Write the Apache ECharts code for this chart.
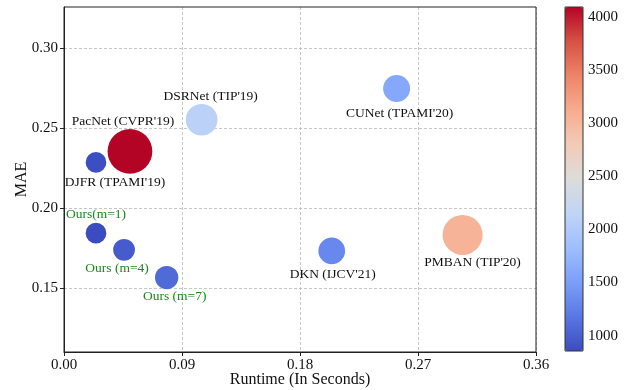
<!DOCTYPE html>
<html>
<head>
<meta charset="utf-8">
<script src="https://cdn.jsdelivr.net/npm/echarts@6/dist/echarts.min.js"></script>
<style>
  html, body { margin: 0; padding: 0; background: #fff; }
  #chart { width: 629px; height: 390px; }
</style>
</head>
<body>
<div id="chart"></div>
<script>
// Runtime vs. MAE, bubble colour = colour value, bubble area = bubble value
const methods = ["DJFR (TPAMI'19)", "PacNet (CVPR'19)", "DSRNet (TIP'19)", "CUNet (TPAMI'20)",
                 "PMBAN (TIP'20)", "DKN (IJCV'21)", "Ours(m=1)", "Ours (m=4)", "Ours (m=7)"];
const runtime = [0.0244, 0.0503, 0.1050, 0.2537, 0.3040, 0.2042, 0.0244, 0.0458, 0.0783];
const mae = [0.2287, 0.2356, 0.2554, 0.2750, 0.1833, 0.1733, 0.1844, 0.1740, 0.1566];
const colorValue = [870, 4091, 2100, 1600, 3050, 1320, 856, 980, 1080];
const bubble = [107, 500, 251, 182, 400, 178, 107, 118, 136];
const isOurs = [false, false, false, false, false, false, true, true, true];

const xTicks = [0, 0.09, 0.18, 0.27, 0.36];
const yTicks = [0.15, 0.20, 0.25, 0.30];
const barTicks = [1000, 1500, 2000, 2500, 3000, 3500, 4000];

// label placement relative to each bubble centre (px)
const labelOffsets = [[19, 20], [-7, -30], [9, -23], [3, 25], [10, 28], [1, 24], [0, -19], [-7, 19], [8, 19]];

const coolwarm = ['#3b4cc0', '#5977e3', '#7b9ff9', '#9ebeff', '#c0d4f5', '#dddcdc',
                  '#f2cbb7', '#f7ac8e', '#ee8468', '#d65244', '#b40426'];

const serif = '"Liberation Serif", "DejaVu Serif", serif';
const cMin = Math.min(...colorValue);
const cMax = Math.max(...colorValue);

const points = methods.map((m, i) => ({
  name: m,
  value: [runtime[i], mae[i], colorValue[i], bubble[i]],
  label: {
    offset: labelOffsets[i],
    color: isOurs[i] ? '#1a8a1a' : '#111'
  }
}));

const chart = echarts.init(document.getElementById('chart'), null, { renderer: 'canvas' });
chart.setOption({
  animation: false,
  backgroundColor: '#fff',
  grid: [
    { left: 64, top: 7, width: 472, height: 345, show: true, borderColor: '#222', borderWidth: 1,
      backgroundColor: 'transparent', z: 3, outerBoundsMode: 'none', containLabel: false },
    { left: 565, top: 7, width: 18, height: 344, show: true, borderColor: '#333', borderWidth: 1,
      backgroundColor: 'transparent', z: 5, outerBoundsMode: 'none', containLabel: false }
  ],
  xAxis: [
    {
      gridIndex: 0, type: 'value', min: 0, max: 0.36, interval: 0.09,
      name: 'Runtime (In Seconds)', nameLocation: 'middle', nameGap: 20, nameMoveOverlap: false,
      nameTextStyle: { fontFamily: serif, fontSize: 16, color: '#111', verticalAlign: 'top' },
      axisLine: { show: true, onZero: false, lineStyle: { color: '#222', width: 1 } },
      axisTick: { show: true, length: 4, lineStyle: { color: '#222' } },
      axisLabel: { fontFamily: serif, fontSize: 15, color: '#111', margin: 6,
                   formatter: v => v.toFixed(2) },
      splitLine: { show: true, lineStyle: { color: '#b8b8b8', type: [3, 2], width: 0.8 } }
    },
    { gridIndex: 1, type: 'value', show: false, min: 0, max: 1 }
  ],
  yAxis: [
    {
      gridIndex: 0, type: 'value', min: 0.11, max: 0.326,
      name: 'MAE', nameLocation: 'middle', nameGap: 34, nameMoveOverlap: false,
      nameTextStyle: { fontFamily: serif, fontSize: 16, color: '#111' },
      axisLine: { show: true, onZero: false, lineStyle: { color: '#222', width: 1 } },
      axisTick: { show: true, length: 4, lineStyle: { color: '#222' }, customValues: yTicks },
      axisLabel: { fontFamily: serif, fontSize: 15, color: '#111', margin: 6,
                   customValues: yTicks, formatter: v => v.toFixed(2) },
      splitLine: { show: true, lineStyle: { color: '#b8b8b8', type: [3, 2], width: 0.8 } }
    },
    {
      gridIndex: 1, type: 'value', position: 'right', min: cMin, max: cMax,
      axisLine: { show: false },
      axisTick: { show: true, length: 4, lineStyle: { color: '#222' }, customValues: barTicks },
      axisLabel: { fontFamily: serif, fontSize: 15, color: '#111', margin: 5,
                   customValues: barTicks, formatter: v => String(v) },
      splitLine: { show: false }
    }
  ],
  visualMap: [{
    type: 'continuous', seriesIndex: 0, dimension: 2,
    min: cMin, max: cMax, calculable: false, hoverLink: false,
    orient: 'vertical', left: 565, top: 7, itemWidth: 18, itemHeight: 344,
    padding: 0, text: null, inRange: { color: coolwarm }
  }],
  series: [{
    type: 'scatter',
    xAxisIndex: 0, yAxisIndex: 0,
    data: points,
    symbolSize: v => 2 * Math.sqrt(v[3]),
    itemStyle: { opacity: 1 },
    label: {
      show: true, position: 'inside', formatter: p => p.name,
      fontFamily: serif, fontSize: 13.5
    },
    emphasis: { disabled: true },
    z: 2
  }]
});
</script>
</body>
</html>
